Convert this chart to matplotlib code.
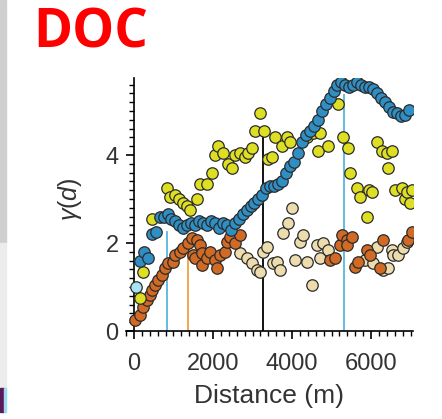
import matplotlib
matplotlib.use('Agg')
import matplotlib.pyplot as plt
from matplotlib.patches import Rectangle
from matplotlib.ticker import MultipleLocator

plt.rcParams['font.family'] = ['Liberation Sans', 'DejaVu Sans']
plt.rcParams['mathtext.fontset'] = 'custom'
plt.rcParams['mathtext.rm'] = 'Liberation Sans'
plt.rcParams['mathtext.it'] = 'Liberation Sans:italic'

# blue series (semivariance vs distance)
blue_d = [150, 250, 350, 450, 550, 650, 750, 850, 950, 1050, 1150, 1250, 1350, 1450,
          1550, 1650, 1750, 1850, 1950, 2050, 2150, 2250, 2350, 2450, 2550, 2650, 2750,
          2850, 2950, 3050, 3150, 3250, 3350, 3450, 3550, 3650, 3750, 3850, 3950, 4050,
          4150, 4250, 4350, 4450, 4550, 4650, 4750, 4850, 4950, 5050, 5150, 5250, 5350,
          5450, 5550, 5650, 5750, 5850, 5950, 6050, 6150, 6250, 6350, 6450, 6550, 6650,
          6750, 6850, 6950]
blue_g = [1.6, 1.8, 1.65, 2.2, 2.25, 2.6, 2.6, 2.65, 2.55, 2.5, 2.4, 2.35, 2.4, 2.45,
          2.4, 2.5, 2.45, 2.4, 2.5, 2.45, 2.35, 2.45, 2.4, 2.3, 2.45, 2.55, 2.65,
          2.75, 2.85, 2.9, 3.0, 3.1, 3.25, 3.3, 3.3, 3.35, 3.4, 3.6, 3.75, 3.85,
          4.05, 4.3, 4.45, 4.55, 4.65, 4.8, 5.0, 5.15, 5.3, 5.45, 5.6, 5.65, 5.6,
          5.55, 5.6, 5.65, 5.6, 5.55, 5.55, 5.5, 5.4, 5.3, 5.2, 5.1, 4.98, 4.95,
          4.88, 4.9, 5.02]
blue_light_d = [50]
blue_light_g = [1.0]

# yellow series
yellow_d = [150, 230, 450, 830, 910, 1050, 1150, 1250, 1340, 1420, 1590, 1670, 1850,
            1970, 2050, 2130, 2250, 2380, 2480, 2560, 2680, 2810, 2890, 2990, 3060,
            3190, 3290, 3390, 3490, 3570, 3750, 3870, 3950, 4380, 4530, 4660, 4710,
            4910, 5160, 5290, 5420, 5470, 5650, 5720, 5900, 5950, 6030, 6150, 6280,
            6400, 6430, 6530, 6610, 6780, 6860, 6910, 6990, 7040]
yellow_g = [0.75, 1.35, 2.55, 3.25, 3.05, 3.1, 3.0, 2.9, 2.85, 2.75, 3.0, 3.35, 3.35,
            3.6, 4.0, 4.2, 4.05, 3.8, 3.7, 4.0, 4.05, 3.95, 4.05, 4.15, 4.55,
            4.95, 4.55, 3.9, 3.95, 4.4, 4.2, 4.4, 4.3, 4.4, 4.5, 4.1, 4.5,
            4.2, 5.15, 4.4, 4.15, 3.6, 3.25, 3.05, 2.6, 3.2, 3.15, 4.3, 4.1,
            4.05, 3.7, 4.1, 3.2, 3.25, 3.0, 3.15, 2.9, 3.2]

# orange series
orange_d = [25, 150, 230, 330, 400, 450, 530, 610, 710, 780, 860, 990, 1040, 1160,
            1240, 1370, 1470, 1490, 1540, 1590, 1670, 1720, 1720, 1850, 1920, 2050,
            2100, 2180, 2300, 2350, 2430, 2560, 2680, 4960, 5090, 5220, 5270, 5390,
            5390, 5520, 5590, 5670, 5900, 5970, 6230, 6300, 6940, 7040]
orange_g = [0.25, 0.36, 0.55, 0.7, 0.82, 0.93, 1.05, 1.16, 1.27, 1.43, 1.55, 1.57,
            1.73, 1.8, 1.89, 2.0, 2.11, 1.73, 1.66, 2.07, 1.95, 1.77, 1.5, 1.66, 1.8,
            1.61, 1.43, 1.73, 1.8, 2.02, 2.14, 2.0, 2.18, 1.61, 1.66, 1.95, 2.18,
            2.07, 1.95, 2.14, 1.45, 1.57, 1.84, 1.73, 1.43, 2.07, 2.07, 2.25]

# pale (tan) series
tan_d = [2680, 2860, 2990, 3110, 3190, 3270, 3370, 3520, 3620, 3700, 3770, 3900, 4000,
         4080, 4200, 4280, 4380, 4510, 4630, 4710, 4790, 4910, 5850, 6050, 6150, 6300,
         6430, 6530, 6560, 6680, 6810, 6910]
tan_g = [1.77, 1.66, 1.55, 1.39, 1.34, 1.8, 1.91, 1.55, 1.57, 1.39, 2.23, 2.45, 2.8,
         1.61, 2.02, 2.18, 1.57, 1.05, 1.95, 1.66, 2.0, 1.84, 1.61, 1.55, 1.91, 1.39,
         1.43, 1.84, 1.73, 1.73, 1.89, 2.02]

# range markers (distance, height, colour)
range_d = [835, 1367, 3266, 5316]
range_g = [2.25, 2.0, 4.45, 5.36]
range_c = ['#5ab4e0', '#f0a040', '#000000', '#5ab4e0']

fig = plt.figure(figsize=(4.42, 4.19), dpi=100)

# grey strip on the left edge of the cropped figure
fig.patches.append(Rectangle((0, 1 - 243 / 419), 6 / 442, 243 / 419,
                             transform=fig.transFigure, color='#cfcfcf', zorder=0))
fig.patches.append(Rectangle((0, 1 - 398 / 419), 6 / 442, 155 / 419,
                             transform=fig.transFigure, color='#ececec', zorder=0))
fig.patches.append(Rectangle((0, 1 - 412 / 419), 4 / 442, 24 / 419,
                             transform=fig.transFigure, color='#5a1a5a', zorder=0))
fig.patches.append(Rectangle((4 / 442, 1 - 412 / 419), 2 / 442, 24 / 419,
                             transform=fig.transFigure, color='#a0d8f0', zorder=0))

fig.text(33 / 442, 1 - 47 / 419, 'DOC', color='#ff0000', fontsize=38,
         fontweight='bold', family='Open Sans', va='baseline', ha='left')

ax = fig.add_axes([126 / 442, 1 - 331 / 419, 287 / 442, 253 / 419])

for d, g, c in zip(range_d, range_g, range_c):
    ax.plot([d, d], [0, g], color=c, lw=1.3, zorder=1)

kw = dict(s=68, edgecolors='#2b2b2b', linewidths=0.9, zorder=3)
ax.scatter(tan_d, tan_g, color='#ecdcae', **kw)
ax.scatter(orange_d, orange_g, color='#d06a24', **kw)
ax.scatter(yellow_d, yellow_g, color='#dede22', **kw)
ax.scatter(blue_d, blue_g, color='#2f8fc4', **kw)
ax.scatter(blue_light_d, blue_light_g, color='#a8e4f0', **kw)

ax.set_xlim(-200, 7060)
ax.set_ylim(0, 5.75)
ax.spines['left'].set_position(('data', 0))
ax.spines['right'].set_visible(False)
ax.spines['top'].set_visible(False)
for s in ['left', 'bottom']:
    ax.spines[s].set_linewidth(1.2)

ax.set_xticks([0, 2000, 4000, 6000])
ax.xaxis.set_minor_locator(MultipleLocator(200))
ax.set_yticks([0, 2, 4])
ax.yaxis.set_minor_locator(MultipleLocator(0.2))
ax.tick_params(which='major', length=6, width=1.2, labelsize=17, labelcolor='#333333',
               direction='out')
ax.tick_params(axis='x', which='major', pad=10)
ax.tick_params(axis='y', which='major', pad=5)
ax.tick_params(which='minor', length=3.5, width=1.0, direction='out')

ax.set_xlabel('Distance (m)', fontsize=19, color='#333333', labelpad=6)
ax.set_ylabel(r'$\gamma(d)$', fontsize=18, color='#333333')
ax.yaxis.set_label_coords(-0.145, 0.52)

fig.savefig('out.png', dpi=100)
